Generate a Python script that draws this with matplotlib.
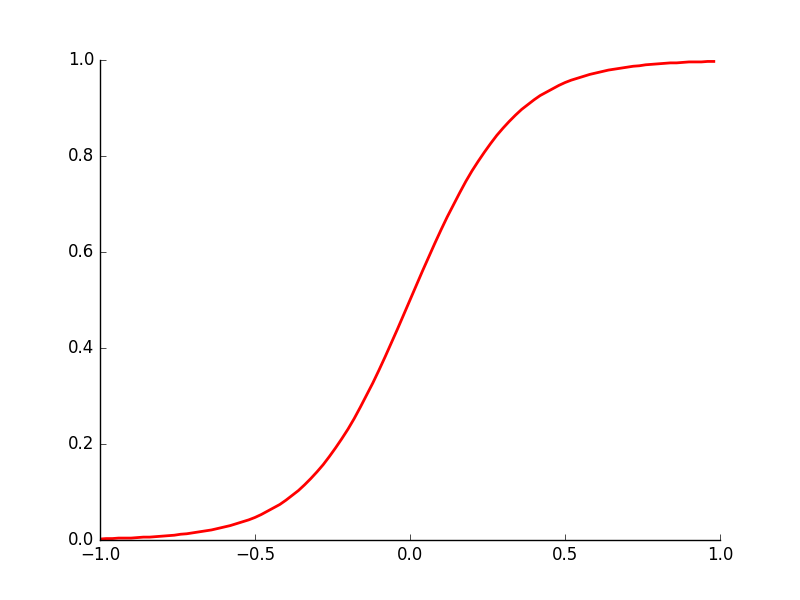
import matplotlib
matplotlib.use("Agg")
import matplotlib.pyplot as plt

# values (x every 0.02 from -1.00 to 0.98)
x_vals = [-1.00, -0.98, -0.96, -0.94, -0.92, -0.90, -0.88, -0.86, -0.84, -0.82,
          -0.80, -0.78, -0.76, -0.74, -0.72, -0.70, -0.68, -0.66, -0.64, -0.62,
          -0.60, -0.58, -0.56, -0.54, -0.52, -0.50, -0.48, -0.46, -0.44, -0.42,
          -0.40, -0.38, -0.36, -0.34, -0.32, -0.30, -0.28, -0.26, -0.24, -0.22,
          -0.20, -0.18, -0.16, -0.14, -0.12, -0.10, -0.08, -0.06, -0.04, -0.02,
          0.00, 0.02, 0.04, 0.06, 0.08, 0.10, 0.12, 0.14, 0.16, 0.18,
          0.20, 0.22, 0.24, 0.26, 0.28, 0.30, 0.32, 0.34, 0.36, 0.38,
          0.40, 0.42, 0.44, 0.46, 0.48, 0.50, 0.52, 0.54, 0.56, 0.58,
          0.60, 0.62, 0.64, 0.66, 0.68, 0.70, 0.72, 0.74, 0.76, 0.78,
          0.80, 0.82, 0.84, 0.86, 0.88, 0.90, 0.92, 0.94, 0.96, 0.98]
y_vals = [0.002, 0.003, 0.003, 0.004, 0.004, 0.004, 0.005, 0.006, 0.006, 0.007,
          0.008, 0.009, 0.010, 0.012, 0.013, 0.015, 0.017, 0.019, 0.021, 0.024,
          0.027, 0.030, 0.034, 0.038, 0.042, 0.047, 0.053, 0.060, 0.067, 0.074,
          0.083, 0.093, 0.103, 0.115, 0.128, 0.142, 0.157, 0.174, 0.192, 0.211,
          0.231, 0.253, 0.277, 0.302, 0.327, 0.354, 0.382, 0.411, 0.440, 0.470,
          0.500, 0.530, 0.560, 0.589, 0.618, 0.646, 0.673, 0.698, 0.723, 0.747,
          0.769, 0.789, 0.808, 0.826, 0.843, 0.858, 0.872, 0.885, 0.897, 0.907,
          0.917, 0.926, 0.933, 0.940, 0.947, 0.953, 0.958, 0.962, 0.966, 0.970,
          0.973, 0.976, 0.979, 0.981, 0.983, 0.985, 0.987, 0.988, 0.990, 0.991,
          0.992, 0.993, 0.994, 0.994, 0.995, 0.996, 0.996, 0.996, 0.997, 0.997]

x_ticks = [-1.0, -0.5, 0.0, 0.5, 1.0]
y_ticks = [0.0, 0.2, 0.4, 0.6, 0.8, 1.0]

plt.style.use("classic")
fig, ax = plt.subplots(figsize=(8, 6), dpi=100)
fig.patch.set_facecolor("white")

ax.plot(x_vals, y_vals, color="red", linewidth=2)

ax.set_xlim(-1, 1)
ax.set_ylim(0, 1)
ax.set_xticks(x_ticks)
ax.set_yticks(y_ticks)

# only left and bottom spines, ticks pointing in
ax.spines["top"].set_visible(False)
ax.spines["right"].set_visible(False)
ax.xaxis.set_ticks_position("bottom")
ax.yaxis.set_ticks_position("left")
ax.tick_params(direction="in", length=4, labelsize=12)

plt.savefig("out.png", dpi=100)
plt.close()
